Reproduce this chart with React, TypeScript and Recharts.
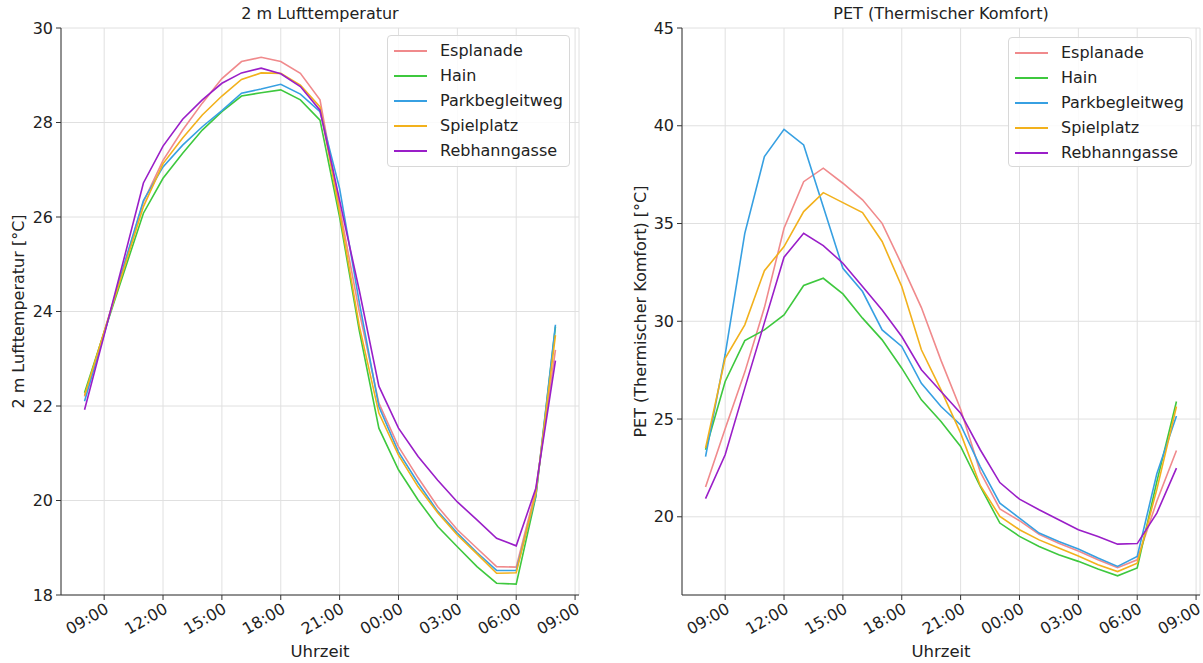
import { LineChart, Line, XAxis, YAxis, CartesianGrid, Legend } from "recharts";

// hours after 08:00 (0 = 08:00, 24 = 08:00 next day)
const hours = [0, 1, 2, 3, 4, 5, 6, 7, 8, 9, 10, 11, 12, 13, 14, 15, 16, 17, 18, 19, 20, 21, 22, 23, 24];
const tickHours = [1, 4, 7, 10, 13, 16, 19, 22, 25];
const tickLabels = ["09:00", "12:00", "15:00", "18:00", "21:00", "00:00", "03:00", "06:00", "09:00"];

// 2 m Lufttemperatur [°C]
const esplanadeT = [22.2, 23.57, 24.95, 26.32, 27.2, 27.84, 28.41, 28.93, 29.29, 29.38, 29.29, 29.04, 28.48, 26.2, 24.0, 22.06, 21.14, 20.48, 19.87, 19.38, 18.99, 18.6, 18.59, 20.22, 23.19];
const hainT = [22.28, 23.56, 24.82, 26.08, 26.82, 27.35, 27.84, 28.23, 28.56, 28.63, 28.69, 28.48, 28.05, 26.0, 23.6, 21.53, 20.65, 20.01, 19.45, 19.02, 18.6, 18.25, 18.23, 20.08, 23.68];
const parkT = [22.1, 23.53, 24.97, 26.35, 27.06, 27.52, 27.91, 28.25, 28.62, 28.71, 28.81, 28.6, 28.23, 26.6, 24.2, 21.99, 21.03, 20.37, 19.77, 19.31, 18.9, 18.52, 18.52, 20.1, 23.72];
const spielT = [22.22, 23.57, 24.9, 26.22, 27.13, 27.67, 28.16, 28.56, 28.91, 29.05, 29.04, 28.79, 28.33, 26.1, 23.7, 21.85, 20.96, 20.29, 19.74, 19.27, 18.87, 18.46, 18.47, 20.15, 23.5];
const rebT = [21.92, 23.5, 25.1, 26.72, 27.5, 28.07, 28.48, 28.83, 29.05, 29.15, 29.03, 28.76, 28.26, 26.35, 24.45, 22.42, 21.53, 20.93, 20.43, 19.97, 19.59, 19.2, 19.04, 20.26, 22.96];

// PET (Thermischer Komfort) [°C]
const esplanadeP = [21.52, 24.5, 27.4, 30.7, 34.76, 37.14, 37.83, 37.06, 36.21, 35.01, 32.9, 30.7, 28.0, 25.5, 22.3, 20.4, 19.8, 19.1, 18.65, 18.25, 17.8, 17.4, 17.8, 20.8, 23.39];
const hainP = [23.43, 26.92, 29.01, 29.56, 30.33, 31.83, 32.2, 31.4, 30.16, 29.05, 27.6, 25.98, 24.87, 23.6, 21.55, 19.68, 19.0, 18.48, 18.06, 17.72, 17.33, 16.98, 17.38, 21.8, 25.9];
const parkP = [23.08, 28.3, 34.5, 38.42, 39.82, 39.02, 35.86, 32.71, 31.52, 29.56, 28.71, 26.83, 25.64, 24.7, 22.57, 20.7, 19.93, 19.17, 18.74, 18.35, 17.89, 17.46, 17.97, 22.2, 25.16];
const spielP = [23.51, 28.11, 29.82, 32.59, 33.82, 35.61, 36.58, 36.07, 35.56, 34.08, 31.78, 28.54, 26.49, 24.28, 21.6, 20.02, 19.34, 18.82, 18.4, 18.0, 17.55, 17.2, 17.63, 21.4, 25.64];
const rebP = [20.93, 23.17, 26.58, 29.93, 33.28, 34.5, 33.87, 32.97, 31.78, 30.58, 29.22, 27.52, 26.41, 25.3, 23.43, 21.75, 20.9, 20.36, 19.85, 19.34, 18.99, 18.6, 18.63, 20.19, 22.49];

const series = [
  { key: "esplanade", name: "Esplanade", color: "#f08a8c" },
  { key: "hain", name: "Hain", color: "#3ec83e" },
  { key: "park", name: "Parkbegleitweg", color: "#37a0e2" },
  { key: "spiel", name: "Spielplatz", color: "#f2b11c" },
  { key: "reb", name: "Rebhanngasse", color: "#9a1ec8" },
];

const tempRows = hours.map((t, i) => ({
  t, esplanade: esplanadeT[i], hain: hainT[i], park: parkT[i], spiel: spielT[i], reb: rebT[i],
}));
const petRows = hours.map((t, i) => ({
  t, esplanade: esplanadeP[i], hain: hainP[i], park: parkP[i], spiel: spielP[i], reb: rebP[i],
}));

const FONT = "'DejaVu Sans', sans-serif";
const INK = "#222";
const SPINE = "#333";
const TICK_FONT = 16;

function TimeTick(props: any) {
  const { x, y, payload } = props;
  const idx = tickHours.indexOf(payload.value);
  return (
    <g transform={`translate(${x},${y})`}>
      <text textAnchor="end" transform="rotate(-30)" dy="0.72em" fontSize={TICK_FONT} fontFamily={FONT} fill={INK}>
        {tickLabels[idx]}
      </text>
    </g>
  );
}

function yTitle(text: string, dx: number) {
  return (props: any) => {
    const vb = props.viewBox;
    const cx = vb.x + dx;
    const cy = vb.y + vb.height / 2;
    return (
      <text x={cx} y={cy} transform={`rotate(-90, ${cx}, ${cy})`} textAnchor="middle" dominantBaseline="central"
        fontSize={16} fontFamily={FONT} fill={INK}>
        {text}
      </text>
    );
  };
}

function LegendBox() {
  return (
    <div style={{
      border: "1px solid #d8d8d8", borderRadius: 4, background: "rgba(255,255,255,0.85)",
      boxSizing: "border-box", width: "100%", height: "100%", paddingTop: 2,
      fontFamily: FONT, fontSize: 16, color: INK,
    }}>
      {series.map(s => (
        <div key={s.key} style={{ display: "flex", alignItems: "center", height: 25 }}>
          <svg width={52} height={10} style={{ flex: "none" }}>
            <line x1={6} x2={39} y1={5} y2={5} stroke={s.color} strokeWidth={2} />
          </svg>
          <span>{s.name}</span>
        </div>
      ))}
    </div>
  );
}

type PanelProps = {
  title: string; yLabel: string; rows: any[];
  yDomain: [number, number]; yTicks: number[];
  width: number; yAxisWidth: number; marginRight: number; labelDx: number;
  legend: { left: number; top: number; width: number; height: number };
};

function Panel(p: PanelProps) {
  const plotLeft = p.yAxisWidth;
  const plotWidth = p.width - p.yAxisWidth - p.marginRight;
  return (
    <div style={{ position: "relative", width: p.width, height: 663 }}>
      <div style={{
        position: "absolute", left: plotLeft, top: 4, width: plotWidth, textAlign: "center",
        fontFamily: FONT, fontSize: 16, color: INK, lineHeight: "20px",
      }}>
        {p.title}
      </div>
      <LineChart width={p.width} height={663} data={p.rows} margin={{ top: 28, right: p.marginRight, bottom: 0, left: 0 }}>
        <CartesianGrid stroke="#e0e0e0" strokeWidth={1} />
        <XAxis type="number" dataKey="t" domain={[-1.2, 25.2]} ticks={tickHours} interval={0} allowDataOverflow
          tick={<TimeTick />} tickSize={5} tickMargin={2} height={68} stroke={SPINE}
          label={{ value: "Uhrzeit", position: "insideBottom", offset: 6, fontSize: 16.5, fontFamily: FONT, fill: INK }} />
        <XAxis xAxisId="top" orientation="top" type="number" domain={[-1.2, 25.2]} height={0} tick={false} tickLine={false}
          stroke={SPINE} />
        <YAxis type="number" domain={p.yDomain} ticks={p.yTicks} interval={0} allowDataOverflow width={p.yAxisWidth}
          tickSize={5} tickMargin={3} stroke={SPINE}
          tick={{ fontSize: TICK_FONT, fontFamily: FONT, fill: INK }}
          label={{ value: p.yLabel, content: yTitle(p.yLabel, p.labelDx) }} />
        <YAxis yAxisId="right" orientation="right" type="number" domain={p.yDomain} width={0} tick={false} tickLine={false} stroke={SPINE} />
        <Legend layout="horizontal" verticalAlign="middle" align="center" content={() => <LegendBox />}
          wrapperStyle={{ left: p.legend.left, top: p.legend.top, width: p.legend.width, height: p.legend.height }} />
        {series.map(s => (
          <Line key={s.key} type="linear" dataKey={s.key} name={s.name} stroke={s.color} strokeWidth={1.6}
            dot={false} isAnimationActive={false} />
        ))}
      </LineChart>
    </div>
  );
}

export default function App() {
  return (
    <div style={{ position: "absolute", left: 0, top: 0, width: 1203, height: 663, background: "#fff" }}>
      <div style={{ position: "absolute", left: 0, top: 0 }}>
        <Panel title="2 m Lufttemperatur" yLabel="2 m Lufttemperatur [°C]" rows={tempRows}
          yDomain={[18, 30]} yTicks={[18, 20, 22, 24, 26, 28, 30]}
          width={590} yAxisWidth={61} marginRight={11} labelDx={18}
          legend={{ left: 387, top: 35, width: 183, height: 132 }} />
      </div>
      <div style={{ position: "absolute", left: 600, top: 0 }}>
        <Panel title="PET (Thermischer Komfort)" yLabel="PET (Thermischer Komfort) [°C]" rows={petRows}
          yDomain={[16, 45]} yTicks={[20, 25, 30, 35, 40, 45]}
          width={603} yAxisWidth={82} marginRight={3} labelDx={40}
          legend={{ left: 408, top: 37, width: 184, height: 130 }} />
      </div>
    </div>
  );
}
